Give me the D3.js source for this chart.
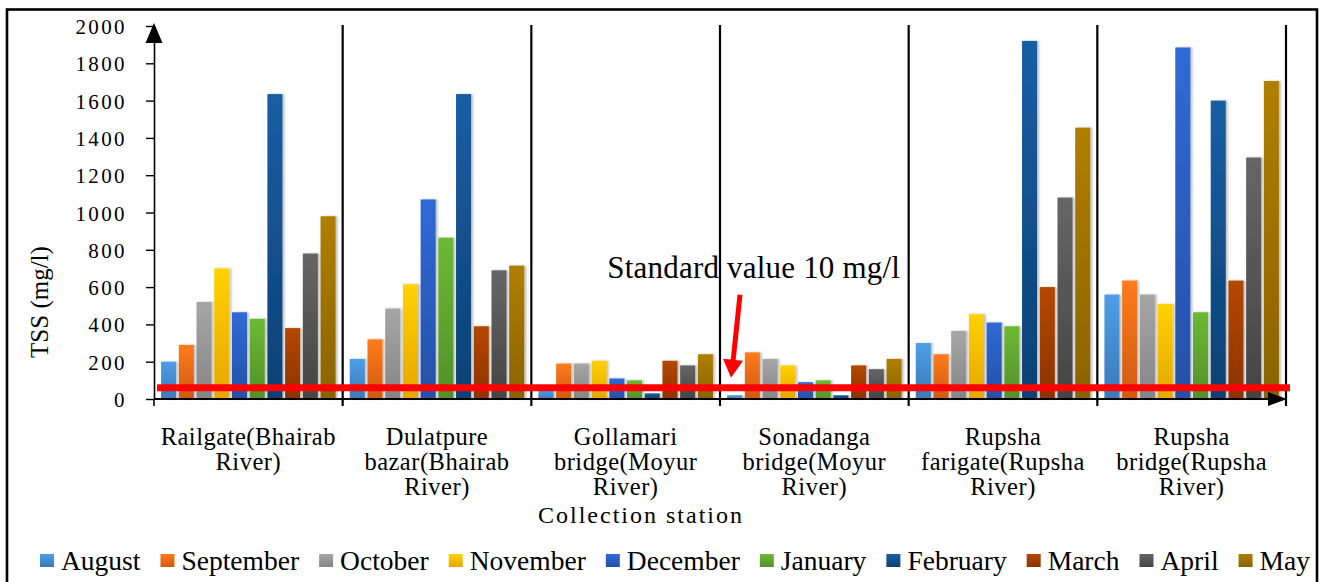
<!DOCTYPE html>
<html>
<head>
<meta charset="utf-8">
<script src="https://cdn.jsdelivr.net/npm/d3@7"></script>
<style>
  body { margin: 0; background: #fff; }
</style>
</head>
<body>
<svg id="chart" width="1319" height="582"></svg>
<script>
/* DATA */
const stations = [
  "Railgate(Bhairab River)",
  "Dulatpure bazar(Bhairab River)",
  "Gollamari bridge(Moyur River)",
  "Sonadanga bridge(Moyur River)",
  "Rupsha farigate(Rupsha River)",
  "Rupsha bridge(Rupsha River)"
];
// how each station label wraps under the axis
const stationLines = [
  ["Railgate(Bhairab", "River)"],
  ["Dulatpure", "bazar(Bhairab", "River)"],
  ["Gollamari", "bridge(Moyur", "River)"],
  ["Sonadanga", "bridge(Moyur", "River)"],
  ["Rupsha", "farigate(Rupsha", "River)"],
  ["Rupsha", "bridge(Rupsha", "River)"]
];
const months = ["August", "September", "October", "November", "December",
                "January", "February", "March", "April", "May"];

// TSS (mg/l) per station, one array per month
const august    = [200, 215, 45, 20, 300, 560];
const september = [290, 320, 190, 250, 240, 635];
const october   = [520, 485, 190, 215, 365, 560];
const november  = [700, 615, 205, 180, 455, 510];
const december  = [465, 1070, 110, 90, 410, 1885];
const january   = [430, 865, 100, 100, 390, 465];
const february  = [1635, 1635, 30, 20, 1920, 1600];
const march     = [380, 390, 205, 180, 600, 635];
const april     = [780, 690, 180, 160, 1080, 1295];
const may       = [980, 715, 240, 215, 1455, 1705];

const yTicks = [0, 200, 400, 600, 800, 1000, 1200, 1400, 1600, 1800, 2000];
const standardLevel = 60;   // where the red reference line sits
const standardLabel = "Standard value 10 mg/l";
const yLabel = "TSS (mg/l)";
const xLabel = "Collection station";

const series = [august, september, october, november, december,
                january, february, march, april, may];

// top / bottom colours of the gradient fill for each month
const colorTop = ["#4d9fe6", "#ff7b1c", "#a6a6a6", "#ffd200", "#2f6ad6",
                  "#6cb934", "#165ea4", "#b44704", "#666666", "#b07f00"];
const colorBottom = ["#3a79b8", "#cf5a10", "#858585", "#e6a600", "#2550a6",
                     "#52902a", "#0e4174", "#8c3300", "#444444", "#8a6300"];

const serif = '"Liberation Serif", "Times New Roman", "DejaVu Serif", serif';

/* LAYOUT */
const svg = d3.select("#chart").attr("font-family", serif);
const plotLeft = 154, plotRight = 1286, plotTop = 26, plotBottom = 399;

const x0 = d3.scaleBand().domain(stations).range([plotLeft, plotRight]).padding(0);
const x1 = d3.scaleBand().domain(months).range([0, x0.bandwidth()])
  .paddingInner(0.15).paddingOuter(0.4);
const y = d3.scaleLinear().domain([0, 2000]).range([plotBottom, plotTop]);

const table = stations.map((s, i) => ({
  station: s,
  values: months.map((m, j) => ({ month: m, idx: j, value: series[j][i] }))
}));

const defs = svg.append("defs");
months.forEach((m, j) => {
  const g = defs.append("linearGradient")
    .attr("id", "grad" + j).attr("x1", 0).attr("y1", 0).attr("x2", 0).attr("y2", 1);
  g.append("stop").attr("offset", "0%").attr("stop-color", colorTop[j]);
  g.append("stop").attr("offset", "100%").attr("stop-color", colorBottom[j]);
});
defs.append("filter").attr("id", "shadow")
  .attr("x", "-20%").attr("y", "-5%").attr("width", "160%").attr("height", "110%")
  .append("feDropShadow")
  .attr("dx", 2).attr("dy", 0).attr("stdDeviation", 1.2)
  .attr("flood-color", "#000").attr("flood-opacity", 0.25);

// outer frame
svg.append("rect")
  .attr("x", 7).attr("y", 9.5).attr("width", 1310).attr("height", 600)
  .attr("fill", "none").attr("stroke", "#000").attr("stroke-width", 2.6);

// standard label
svg.append("text")
  .attr("x", x0(stations[2]) + 76)
  .attr("y", y(650))
  .attr("font-size", 31)
  .attr("letter-spacing", 0.2)
  .text(standardLabel);

// station separators (also the ticks below the axis)
const bounds = stations.map(s => x0(s)).concat([plotRight]);
svg.append("g").selectAll("line")
  .data(bounds.slice(1))
  .join("line")
  .attr("x1", d => d).attr("x2", d => d)
  .attr("y1", plotTop - 1).attr("y2", plotBottom + 7)
  .attr("stroke", "#000").attr("stroke-width", 2.2);

/* BARS */
const groups = svg.append("g").selectAll("g")
  .data(table)
  .join("g")
  .attr("transform", d => `translate(${x0(d.station)},0)`);

groups.selectAll("rect")
  .data(d => d.values)
  .join("rect")
  .attr("x", d => x1(d.month))
  .attr("y", d => y(d.value))
  .attr("width", x1.bandwidth())
  .attr("height", d => y(0) - y(d.value))
  .attr("fill", d => `url(#grad${d.idx})`)
  .attr("filter", "url(#shadow)");

/* AXES */
const yAxis = svg.append("g")
  .attr("transform", `translate(${plotLeft},0)`)
  .call(d3.axisLeft(y).tickValues(yTicks).tickFormat(d3.format("d"))
    .tickSize(8).tickSizeOuter(0).tickPadding(19))
  .attr("font-family", serif);
yAxis.select(".domain").attr("stroke-width", 1.6);
yAxis.selectAll(".tick line").attr("stroke-width", 1.4);
yAxis.selectAll(".tick text")
  .attr("font-size", 21)
  .attr("letter-spacing", 2.4)
  .attr("fill", "#000")
  .attr("dy", "0.36em");

// y axis arrow head
svg.append("path")
  .attr("d", d3.line()([[plotLeft - 8.5, plotTop + 17], [plotLeft, plotTop - 3], [plotLeft + 8.5, plotTop + 17]]) + "Z")
  .attr("fill", "#000");
// y axis extension below the axis
svg.append("line")
  .attr("x1", plotLeft).attr("x2", plotLeft).attr("y1", plotBottom).attr("y2", plotBottom + 7)
  .attr("stroke", "#000").attr("stroke-width", 1.6);

// x axis line + arrow
svg.append("line")
  .attr("x1", plotLeft).attr("x2", plotRight - 10).attr("y1", plotBottom).attr("y2", plotBottom)
  .attr("stroke", "#000").attr("stroke-width", 1.8);
svg.append("path")
  .attr("d", d3.line()([[plotRight - 18, plotBottom - 7], [plotRight + 1, plotBottom], [plotRight - 18, plotBottom + 7]]) + "Z")
  .attr("fill", "#000");

// station labels
const labels = svg.append("g").selectAll("text")
  .data(stations)
  .join("text")
  .attr("text-anchor", "middle")
  .attr("font-size", 24.5)
  .attr("letter-spacing", 0.5)
  .attr("y", 445);
labels.selectAll("tspan")
  .data((d, i) => stationLines[i].map(t => ({ t, s: d })))
  .join("tspan")
  .attr("x", d => x0(d.s) + x0.bandwidth() / 2)
  .attr("dy", (d, i) => i === 0 ? 0 : 25)
  .text(d => d.t);

// axis titles
svg.append("text")
  .attr("transform", `translate(48,${y(520)}) rotate(-90)`)
  .attr("text-anchor", "middle")
  .attr("font-size", 25)
  .text(yLabel);
svg.append("text")
  .attr("x", 641).attr("y", 523)
  .attr("text-anchor", "middle")
  .attr("font-size", 24)
  .attr("letter-spacing", 2)
  .text(xLabel);

/* STANDARD LINE + ARROW */
svg.append("line")
  .attr("x1", plotLeft + 3).attr("x2", plotRight + 4)
  .attr("y1", y(standardLevel)).attr("y2", y(standardLevel))
  .attr("stroke", "#ff0000").attr("stroke-width", 7);

const tip = [x0(stations[3]) + 11, y(standardLevel) - 10];
const tail = [tip[0] + 9, tip[1] - 83];
svg.append("line")
  .attr("x1", tail[0]).attr("y1", tail[1])
  .attr("x2", tip[0] + 2).attr("y2", tip[1] - 16)
  .attr("stroke", "#ff0000").attr("stroke-width", 5);
svg.append("path")
  .attr("d", d3.line()([[tip[0] - 8, tip[1] - 19], [tip[0], tip[1]], [tip[0] + 12, tip[1] - 17]]) + "Z")
  .attr("fill", "#ff0000");

/* LEGEND */
const legendY = 570, legendStart = 40, legendEnd = 1310;
const legend = svg.append("g");
const items = legend.selectAll("g")
  .data(months)
  .join("g");
items.append("rect")
  .attr("y", legendY - 16).attr("width", 14).attr("height", 13)
  .attr("fill", (d, j) => `url(#grad${j})`);
items.append("text")
  .attr("x", 21).attr("y", legendY)
  .attr("font-size", 27.5)
  .text(d => d);

// make sure every text uses the serif face
svg.selectAll("text").style("font-family", serif);

const widths = [];
items.each(function() { widths.push(21 + this.querySelector("text").getComputedTextLength()); });
const gap = (legendEnd - legendStart - d3.sum(widths)) / (months.length - 1);
let cursor = legendStart;
items.attr("transform", (d, j) => {
  const t = `translate(${cursor},0)`;
  cursor += widths[j] + gap;
  return t;
});
</script>
</body>
</html>
